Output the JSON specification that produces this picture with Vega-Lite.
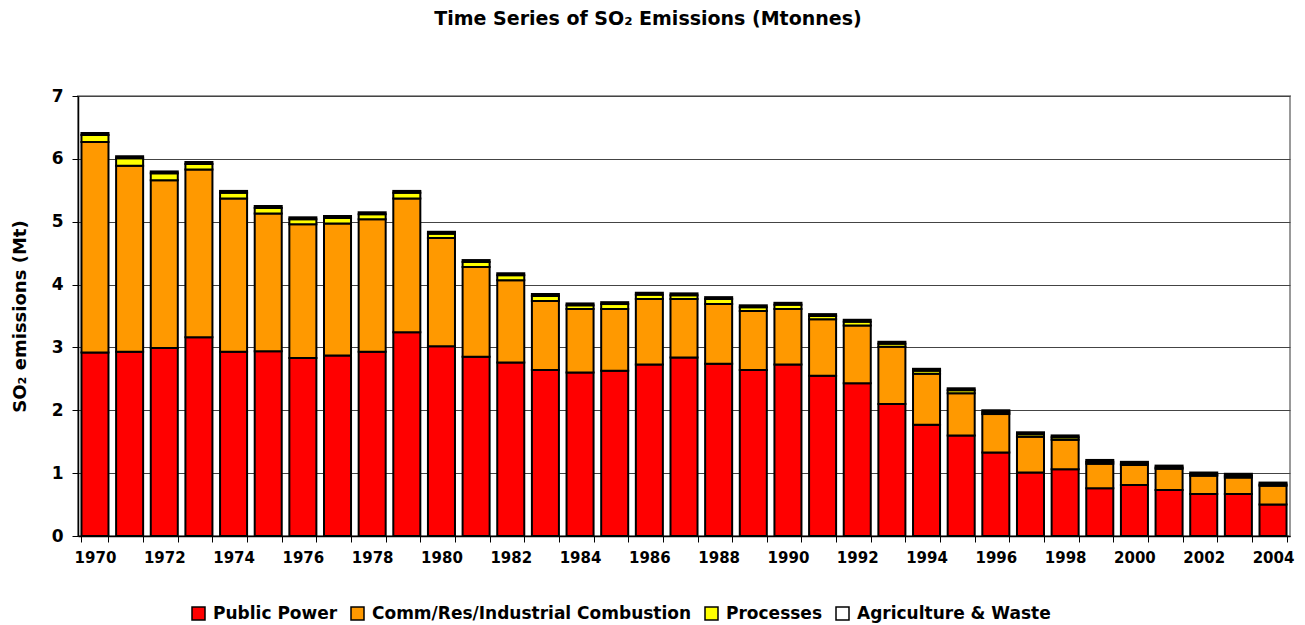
{
  "$schema": "https://vega.github.io/schema/vega-lite/v6.json",
  "width": 1212,
  "height": 440,
  "autosize": {"type": "none"},
  "padding": {"left": 78, "top": 96, "right": 15, "bottom": 89},
  "background": "white",
  "title": {
    "text": "Time Series of SO₂ Emissions (Mtonnes)",
    "font": "DejaVu Sans",
    "fontSize": 19,
    "fontWeight": "bold",
    "color": "black",
    "anchor": "middle",
    "dx": -36,
    "offset": 58
  },
  "config": {
    "view": {"stroke": "#999999", "strokeWidth": 2},
    "axis": {
      "labelFont": "DejaVu Sans",
      "labelFontWeight": "bold",
      "labelColor": "black",
      "titleFont": "DejaVu Sans",
      "titleFontWeight": "bold",
      "titleColor": "black",
      "domainColor": "black",
      "domainWidth": 1.5,
      "tickColor": "black",
      "tickWidth": 1
    },
    "legend": {
      "labelFont": "DejaVu Sans",
      "labelFontWeight": "bold",
      "labelColor": "black"
    }
  },
  "datasets": {
    "sources": [
      {"source": "Public Power", "rank": 1},
      {"source": "Comm/Res/Industrial Combustion", "rank": 2},
      {"source": "Processes", "rank": 3},
      {"source": "Agriculture & Waste", "rank": 4}
    ],
    "emissions": [
      {"year": "1970", "source": "Public Power", "value": 2.92},
      {"year": "1970", "source": "Comm/Res/Industrial Combustion", "value": 3.35},
      {"year": "1970", "source": "Processes", "value": 0.11},
      {"year": "1970", "source": "Agriculture & Waste", "value": 0.03},
      {"year": "1971", "source": "Public Power", "value": 2.93},
      {"year": "1971", "source": "Comm/Res/Industrial Combustion", "value": 2.96},
      {"year": "1971", "source": "Processes", "value": 0.12},
      {"year": "1971", "source": "Agriculture & Waste", "value": 0.03},
      {"year": "1972", "source": "Public Power", "value": 2.99},
      {"year": "1972", "source": "Comm/Res/Industrial Combustion", "value": 2.67},
      {"year": "1972", "source": "Processes", "value": 0.11},
      {"year": "1972", "source": "Agriculture & Waste", "value": 0.03},
      {"year": "1973", "source": "Public Power", "value": 3.16},
      {"year": "1973", "source": "Comm/Res/Industrial Combustion", "value": 2.67},
      {"year": "1973", "source": "Processes", "value": 0.09},
      {"year": "1973", "source": "Agriculture & Waste", "value": 0.03},
      {"year": "1974", "source": "Public Power", "value": 2.93},
      {"year": "1974", "source": "Comm/Res/Industrial Combustion", "value": 2.44},
      {"year": "1974", "source": "Processes", "value": 0.09},
      {"year": "1974", "source": "Agriculture & Waste", "value": 0.03},
      {"year": "1975", "source": "Public Power", "value": 2.94},
      {"year": "1975", "source": "Comm/Res/Industrial Combustion", "value": 2.19},
      {"year": "1975", "source": "Processes", "value": 0.09},
      {"year": "1975", "source": "Agriculture & Waste", "value": 0.03},
      {"year": "1976", "source": "Public Power", "value": 2.83},
      {"year": "1976", "source": "Comm/Res/Industrial Combustion", "value": 2.13},
      {"year": "1976", "source": "Processes", "value": 0.08},
      {"year": "1976", "source": "Agriculture & Waste", "value": 0.03},
      {"year": "1977", "source": "Public Power", "value": 2.87},
      {"year": "1977", "source": "Comm/Res/Industrial Combustion", "value": 2.10},
      {"year": "1977", "source": "Processes", "value": 0.09},
      {"year": "1977", "source": "Agriculture & Waste", "value": 0.03},
      {"year": "1978", "source": "Public Power", "value": 2.93},
      {"year": "1978", "source": "Comm/Res/Industrial Combustion", "value": 2.11},
      {"year": "1978", "source": "Processes", "value": 0.08},
      {"year": "1978", "source": "Agriculture & Waste", "value": 0.03},
      {"year": "1979", "source": "Public Power", "value": 3.24},
      {"year": "1979", "source": "Comm/Res/Industrial Combustion", "value": 2.13},
      {"year": "1979", "source": "Processes", "value": 0.09},
      {"year": "1979", "source": "Agriculture & Waste", "value": 0.03},
      {"year": "1980", "source": "Public Power", "value": 3.02},
      {"year": "1980", "source": "Comm/Res/Industrial Combustion", "value": 1.72},
      {"year": "1980", "source": "Processes", "value": 0.07},
      {"year": "1980", "source": "Agriculture & Waste", "value": 0.03},
      {"year": "1981", "source": "Public Power", "value": 2.85},
      {"year": "1981", "source": "Comm/Res/Industrial Combustion", "value": 1.43},
      {"year": "1981", "source": "Processes", "value": 0.08},
      {"year": "1981", "source": "Agriculture & Waste", "value": 0.03},
      {"year": "1982", "source": "Public Power", "value": 2.76},
      {"year": "1982", "source": "Comm/Res/Industrial Combustion", "value": 1.31},
      {"year": "1982", "source": "Processes", "value": 0.08},
      {"year": "1982", "source": "Agriculture & Waste", "value": 0.03},
      {"year": "1983", "source": "Public Power", "value": 2.64},
      {"year": "1983", "source": "Comm/Res/Industrial Combustion", "value": 1.10},
      {"year": "1983", "source": "Processes", "value": 0.08},
      {"year": "1983", "source": "Agriculture & Waste", "value": 0.03},
      {"year": "1984", "source": "Public Power", "value": 2.60},
      {"year": "1984", "source": "Comm/Res/Industrial Combustion", "value": 1.01},
      {"year": "1984", "source": "Processes", "value": 0.06},
      {"year": "1984", "source": "Agriculture & Waste", "value": 0.03},
      {"year": "1985", "source": "Public Power", "value": 2.63},
      {"year": "1985", "source": "Comm/Res/Industrial Combustion", "value": 0.98},
      {"year": "1985", "source": "Processes", "value": 0.08},
      {"year": "1985", "source": "Agriculture & Waste", "value": 0.03},
      {"year": "1986", "source": "Public Power", "value": 2.73},
      {"year": "1986", "source": "Comm/Res/Industrial Combustion", "value": 1.04},
      {"year": "1986", "source": "Processes", "value": 0.07},
      {"year": "1986", "source": "Agriculture & Waste", "value": 0.03},
      {"year": "1987", "source": "Public Power", "value": 2.84},
      {"year": "1987", "source": "Comm/Res/Industrial Combustion", "value": 0.93},
      {"year": "1987", "source": "Processes", "value": 0.06},
      {"year": "1987", "source": "Agriculture & Waste", "value": 0.03},
      {"year": "1988", "source": "Public Power", "value": 2.74},
      {"year": "1988", "source": "Comm/Res/Industrial Combustion", "value": 0.95},
      {"year": "1988", "source": "Processes", "value": 0.08},
      {"year": "1988", "source": "Agriculture & Waste", "value": 0.03},
      {"year": "1989", "source": "Public Power", "value": 2.64},
      {"year": "1989", "source": "Comm/Res/Industrial Combustion", "value": 0.94},
      {"year": "1989", "source": "Processes", "value": 0.06},
      {"year": "1989", "source": "Agriculture & Waste", "value": 0.03},
      {"year": "1990", "source": "Public Power", "value": 2.73},
      {"year": "1990", "source": "Comm/Res/Industrial Combustion", "value": 0.88},
      {"year": "1990", "source": "Processes", "value": 0.07},
      {"year": "1990", "source": "Agriculture & Waste", "value": 0.03},
      {"year": "1991", "source": "Public Power", "value": 2.55},
      {"year": "1991", "source": "Comm/Res/Industrial Combustion", "value": 0.90},
      {"year": "1991", "source": "Processes", "value": 0.05},
      {"year": "1991", "source": "Agriculture & Waste", "value": 0.03},
      {"year": "1992", "source": "Public Power", "value": 2.43},
      {"year": "1992", "source": "Comm/Res/Industrial Combustion", "value": 0.92},
      {"year": "1992", "source": "Processes", "value": 0.06},
      {"year": "1992", "source": "Agriculture & Waste", "value": 0.03},
      {"year": "1993", "source": "Public Power", "value": 2.10},
      {"year": "1993", "source": "Comm/Res/Industrial Combustion", "value": 0.91},
      {"year": "1993", "source": "Processes", "value": 0.05},
      {"year": "1993", "source": "Agriculture & Waste", "value": 0.03},
      {"year": "1994", "source": "Public Power", "value": 1.77},
      {"year": "1994", "source": "Comm/Res/Industrial Combustion", "value": 0.81},
      {"year": "1994", "source": "Processes", "value": 0.05},
      {"year": "1994", "source": "Agriculture & Waste", "value": 0.03},
      {"year": "1995", "source": "Public Power", "value": 1.60},
      {"year": "1995", "source": "Comm/Res/Industrial Combustion", "value": 0.67},
      {"year": "1995", "source": "Processes", "value": 0.05},
      {"year": "1995", "source": "Agriculture & Waste", "value": 0.03},
      {"year": "1996", "source": "Public Power", "value": 1.33},
      {"year": "1996", "source": "Comm/Res/Industrial Combustion", "value": 0.61},
      {"year": "1996", "source": "Processes", "value": 0.03},
      {"year": "1996", "source": "Agriculture & Waste", "value": 0.03},
      {"year": "1997", "source": "Public Power", "value": 1.01},
      {"year": "1997", "source": "Comm/Res/Industrial Combustion", "value": 0.57},
      {"year": "1997", "source": "Processes", "value": 0.04},
      {"year": "1997", "source": "Agriculture & Waste", "value": 0.03},
      {"year": "1998", "source": "Public Power", "value": 1.06},
      {"year": "1998", "source": "Comm/Res/Industrial Combustion", "value": 0.47},
      {"year": "1998", "source": "Processes", "value": 0.04},
      {"year": "1998", "source": "Agriculture & Waste", "value": 0.03},
      {"year": "1999", "source": "Public Power", "value": 0.76},
      {"year": "1999", "source": "Comm/Res/Industrial Combustion", "value": 0.39},
      {"year": "1999", "source": "Processes", "value": 0.03},
      {"year": "1999", "source": "Agriculture & Waste", "value": 0.03},
      {"year": "2000", "source": "Public Power", "value": 0.81},
      {"year": "2000", "source": "Comm/Res/Industrial Combustion", "value": 0.32},
      {"year": "2000", "source": "Processes", "value": 0.02},
      {"year": "2000", "source": "Agriculture & Waste", "value": 0.03},
      {"year": "2001", "source": "Public Power", "value": 0.73},
      {"year": "2001", "source": "Comm/Res/Industrial Combustion", "value": 0.34},
      {"year": "2001", "source": "Processes", "value": 0.02},
      {"year": "2001", "source": "Agriculture & Waste", "value": 0.03},
      {"year": "2002", "source": "Public Power", "value": 0.67},
      {"year": "2002", "source": "Comm/Res/Industrial Combustion", "value": 0.29},
      {"year": "2002", "source": "Processes", "value": 0.02},
      {"year": "2002", "source": "Agriculture & Waste", "value": 0.03},
      {"year": "2003", "source": "Public Power", "value": 0.67},
      {"year": "2003", "source": "Comm/Res/Industrial Combustion", "value": 0.26},
      {"year": "2003", "source": "Processes", "value": 0.03},
      {"year": "2003", "source": "Agriculture & Waste", "value": 0.03},
      {"year": "2004", "source": "Public Power", "value": 0.50},
      {"year": "2004", "source": "Comm/Res/Industrial Combustion", "value": 0.30},
      {"year": "2004", "source": "Processes", "value": 0.02},
      {"year": "2004", "source": "Agriculture & Waste", "value": 0.03}
    ]
  },
  "data": {"name": "emissions"},
  "transform": [
    {"lookup": "source", "from": {"data": {"name": "sources"}, "key": "source", "fields": ["rank"]}}
  ],
  "mark": {"type": "bar", "stroke": "black", "strokeWidth": 2},
  "encoding": {
    "x": {
      "field": "year",
      "type": "ordinal",
      "scale": {"paddingInner": 0.22, "paddingOuter": 0.1},
      "axis": {
        "title": null,
        "labelAngle": 0,
        "labelFontSize": 15,
        "labelPadding": 8,
        "tickBand": "extent",
        "tickSize": 6,
        "grid": false,
        "labelExpr": "toNumber(datum.value) % 2 == 0 ? datum.label : ''"
      }
    },
    "y": {
      "field": "value",
      "type": "quantitative",
      "stack": "zero",
      "scale": {"domain": [0, 7], "nice": false},
      "axis": {
        "title": "SO₂ emissions (Mt)",
        "titleFontSize": 18,
        "titlePadding": 22,
        "labelFontSize": 17,
        "labelPadding": 9,
        "tickCount": 7,
        "tickSize": 6,
        "grid": true,
        "gridColor": "#444444",
        "gridWidth": 1
      }
    },
    "order": {"field": "rank", "type": "quantitative", "sort": "ascending"},
    "color": {
      "field": "source",
      "type": "nominal",
      "sort": ["Public Power", "Comm/Res/Industrial Combustion", "Processes", "Agriculture & Waste"],
      "scale": {
        "domain": ["Public Power", "Comm/Res/Industrial Combustion", "Processes", "Agriculture & Waste"],
        "range": ["#ff0000", "#ff9900", "#ffff00", "#ffffff"]
      },
      "legend": {
        "title": null,
        "orient": "none",
        "direction": "horizontal",
        "legendX": 112,
        "legendY": 509,
        "symbolType": "square",
        "symbolSize": 169,
        "symbolStrokeColor": "black",
        "symbolStrokeWidth": 1.5,
        "symbolOpacity": 1,
        "labelFontSize": 17,
        "labelOffset": 6,
        "labelLimit": 0,
        "columnPadding": 10
      }
    }
  }
}
